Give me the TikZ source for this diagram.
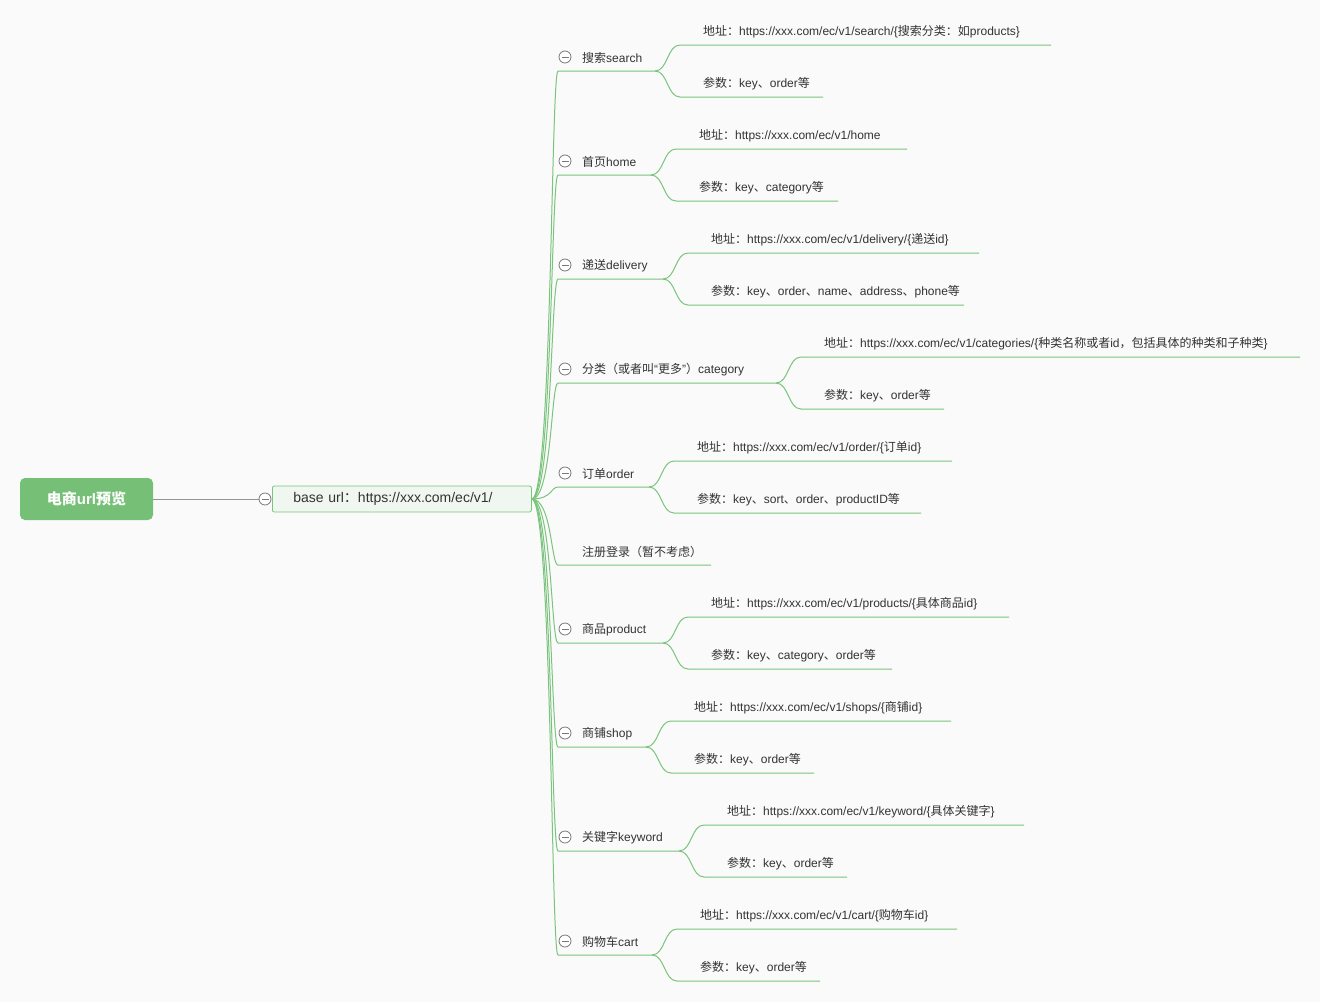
\documentclass[tikz,border=0pt]{standalone}
\usepackage{fontspec}
\setmainfont{Liberation Sans}
\newfontfamily\cjk{Noto Sans CJK SC}
\newcommand\zh[1]{{\cjk #1}}
\definecolor{bgc}{RGB}{250,250,250}
\definecolor{linec}{RGB}{122,196,124}
\definecolor{rootc}{RGB}{117,192,118}
\definecolor{basefill}{RGB}{240,247,240}
\definecolor{txt}{RGB}{51,51,51}
\definecolor{tog}{RGB}{120,120,120}
\tikzset{
  branchline/.style={draw=linec, line width=1pt},
  topictext/.style={anchor=west, inner sep=0pt, text=txt, font=\fontsize{12}{14}\selectfont},
  leaftext/.style={anchor=west, inner sep=0pt, text=txt, font=\fontsize{12}{14}\selectfont},
  toggle/.style={circle, draw=tog, fill=white, line width=0.8pt, minimum size=12pt, inner sep=0pt,
    path picture={\draw[tog, line width=0.8pt] ([xshift=-3.5pt]path picture bounding box.center) -- ([xshift=3.5pt]path picture bounding box.center);}},
}
% #1 name, #2 text centre y, #3 knot x, #4 topic, #5 address, #6 address line end, #7 params, #8 params line end
\newcommand\topic[8]{%
  \node[topictext] (#1) at (582,#2+1.5) {#4};
  \node[toggle] (#1-t) at (565,#2+1) {};
  \coordinate (#1-u) at (558,#2+15);
  \coordinate (#1-k) at (#3,#2+15);
  \draw[branchline] (base.east) .. controls (552,499) and (551,#2+15) .. (#1-u) -- (#1-k);
  \node[leaftext] (#1-a) at (#3+48,#2-24.5) {#5};
  \node[leaftext] (#1-p) at (#3+48,#2+27.5) {#7};
  \coordinate (#1-a0) at (#3+25,#2-11);
  \coordinate (#1-a1) at (#6,#2-11);
  \coordinate (#1-p0) at (#3+25,#2+41);
  \coordinate (#1-p1) at (#8,#2+41);
  \draw[branchline] (#1-k) .. controls (#3+13,#2+15) and (#3+12,#2-11) .. (#1-a0) -- (#1-a1);
  \draw[branchline] (#1-k) .. controls (#3+13,#2+15) and (#3+12,#2+41) .. (#1-p0) -- (#1-p1);
}
\begin{document}
\begin{tikzpicture}[x=1pt,y=-1pt]
\fill[bgc] (0,0) rectangle (1320,1002);
\useasboundingbox (0,0) rectangle (1320,1002);

\node[fill=rootc, rounded corners=5pt, minimum width=133pt, minimum height=42pt, inner sep=0pt,
  text=white, font=\fontsize{15}{18}\selectfont\bfseries] (root) at (86.5,499) {\zh{电商}url\zh{预览}};
\node[toggle] (base-t) at (265,499) {};
\node[anchor=west, draw=linec, fill=basefill, rounded corners=2pt, line width=0.8pt,
  inner xsep=21pt, inner ysep=0pt, minimum height=26pt, text width=217pt, align=left,
  text=txt, font=\fontsize{14}{16}\selectfont] (base) at (272,499) {base url\zh{：}https://xxx.com/ec/v1/};
\draw[draw=tog!80, line width=0.8pt] (root.east) -- (base-t.west);

\topic{search}{56}{655}{\zh{搜索}search}
  {\zh{地址：}https://xxx.com/ec/v1/search/\{\zh{搜索分类：如}products\}}{1051}
  {\zh{参数：}key\zh{、}order\zh{等}}{823}
\topic{home}{160}{651}{\zh{首页}home}
  {\zh{地址：}https://xxx.com/ec/v1/home}{907}
  {\zh{参数：}key\zh{、}category\zh{等}}{838}
\topic{delivery}{264}{663}{\zh{递送}delivery}
  {\zh{地址：}https://xxx.com/ec/v1/delivery/\{\zh{递送}id\}}{979}
  {\zh{参数：}key\zh{、}order\zh{、}name\zh{、}address\zh{、}phone\zh{等}}{964}
\topic{category}{368}{776}{\zh{分类（或者叫}“\zh{更多}”\zh{）}category}
  {\zh{地址：}https://xxx.com/ec/v1/categories/\{\zh{种类名称或者}id\zh{，包括具体的种类和子种类}\}}{1300}
  {\zh{参数：}key\zh{、}order\zh{等}}{944}
\topic{order}{472}{649}{\zh{订单}order}
  {\zh{地址：}https://xxx.com/ec/v1/order/\{\zh{订单}id\}}{952}
  {\zh{参数：}key\zh{、}sort\zh{、}order\zh{、}productID\zh{等}}{921}

% topic without sub-items
\node[topictext] (login) at (582,551.5) {\zh{注册登录（暂不考虑）}};
\coordinate (login-u) at (558,565);
\coordinate (login-e) at (711,565);
\draw[branchline] (base.east) .. controls (552,499) and (551,565) .. (login-u) -- (login-e);

\topic{product}{628}{663}{\zh{商品}product}
  {\zh{地址：}https://xxx.com/ec/v1/products/\{\zh{具体商品}id\}}{1009}
  {\zh{参数：}key\zh{、}category\zh{、}order\zh{等}}{892}
\topic{shop}{732}{646}{\zh{商铺}shop}
  {\zh{地址：}https://xxx.com/ec/v1/shops/\{\zh{商铺}id\}}{951}
  {\zh{参数：}key\zh{、}order\zh{等}}{814}
\topic{keyword}{836}{679}{\zh{关键字}keyword}
  {\zh{地址：}https://xxx.com/ec/v1/keyword/\{\zh{具体关键字}\}}{1024}
  {\zh{参数：}key\zh{、}order\zh{等}}{847}
\topic{cart}{940}{652}{\zh{购物车}cart}
  {\zh{地址：}https://xxx.com/ec/v1/cart/\{\zh{购物车}id\}}{957}
  {\zh{参数：}key\zh{、}order\zh{等}}{820}
\end{tikzpicture}
\end{document}
